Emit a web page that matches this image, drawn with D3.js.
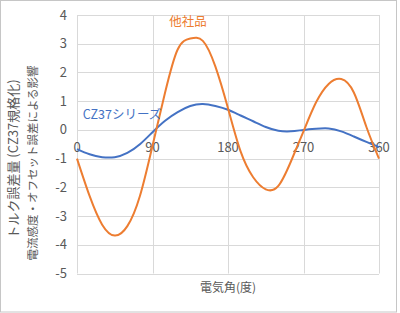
<!DOCTYPE html>
<html>
<head>
<meta charset="utf-8">
<script src="https://cdn.jsdelivr.net/npm/d3@7"></script>
<style>
  body { margin: 0; background: #fff; }
  svg { display: block; }
  text { font-family: "Noto Sans CJK JP", "Noto Sans", sans-serif; }
</style>
</head>
<body>
<svg width="400" height="313"></svg>
<script>
// electrical angle (deg), every 15
const angles = [0, 15, 30, 45, 60, 75, 90, 105, 120, 135, 150, 165, 180,
  195, 210, 225, 240, 255, 270, 285, 300, 315, 330, 345, 360];

// 他社品
const otherValues = [-1.0, -2.3, -3.3, -3.68, -3.35, -2.3, -0.55, 1.3, 2.8, 3.18, 3.1, 2.2, 0.75,
  -0.75, -1.65, -2.07, -1.95, -1.1, -0.05, 0.96, 1.6, 1.77, 1.3, 0.1, -1.0];

// CZ37シリーズ
const czValues = [-0.67, -0.85, -0.95, -0.95, -0.8, -0.5, -0.08, 0.32, 0.62, 0.83, 0.9, 0.83, 0.7,
  0.5, 0.3, 0.1, -0.03, -0.05, 0.0, 0.04, 0.05, -0.05, -0.23, -0.42, -0.6];

const xTicks = [0, 90, 180, 270, 360];
const yTicks = [-5, -4, -3, -2, -1, 0, 1, 2, 3, 4];

const svg = d3.select("svg");

// outer frame
svg.append("rect")
  .attr("x", 0.5).attr("y", 0.5)
  .attr("width", 396).attr("height", 311.5)
  .attr("fill", "none")
  .attr("stroke", "#c6c6c6");

const x = d3.scaleLinear().domain([0, 360]).range([77, 379]);
const y = d3.scaleLinear().domain([-5, 4]).range([273.5, 15]);

// grid
svg.append("g")
  .selectAll("line.h")
  .data(yTicks)
  .enter().append("line")
  .attr("x1", x(0)).attr("x2", x(360))
  .attr("y1", d => Math.round(y(d)) + 0.5)
  .attr("y2", d => Math.round(y(d)) + 0.5)
  .style("stroke", "#d9d9d9");

svg.append("g")
  .selectAll("line.v")
  .data(xTicks)
  .enter().append("line")
  .attr("x1", d => Math.round(x(d)) + 0.5)
  .attr("x2", d => Math.round(x(d)) + 0.5)
  .attr("y1", y(4)).attr("y2", y(-5))
  .style("stroke", "#d9d9d9");

// y tick labels
svg.append("g")
  .selectAll("text")
  .data(yTicks)
  .enter().append("text")
  .attr("x", 67)
  .attr("y", d => y(d))
  .attr("dy", "0.35em")
  .attr("text-anchor", "end")
  .style("font-size", "13px")
  .style("fill", "#595959")
  .text(d => d);

// x tick labels, sitting just under the zero line
svg.append("g")
  .selectAll("text")
  .data(xTicks)
  .enter().append("text")
  .attr("x", d => x(d))
  .attr("y", y(0) + 18)
  .attr("dy", "0.35em")
  .attr("text-anchor", "middle")
  .style("font-size", "13px")
  .style("fill", "#595959")
  .text(d => d);

// lines
const line = d3.line()
  .x((d, i) => x(angles[i]))
  .y(d => y(d))
  .curve(d3.curveNatural);

svg.append("path")
  .datum(czValues)
  .attr("d", line)
  .attr("fill", "none")
  .style("stroke", "#4472c4")
  .style("stroke-width", 2);

svg.append("path")
  .datum(otherValues)
  .attr("d", line)
  .attr("fill", "none")
  .style("stroke", "#ed7d31")
  .style("stroke-width", 2);

// series labels
svg.append("text")
  .attr("x", 188).attr("y", 22)
  .attr("dy", "0.35em")
  .attr("text-anchor", "middle")
  .style("font-size", "12.5px")
  .style("fill", "#ed7d31")
  .text("他社品");

svg.append("text")
  .attr("x", 122).attr("y", 115)
  .attr("dy", "0.35em")
  .attr("text-anchor", "middle")
  .style("font-size", "12.5px")
  .style("fill", "#4472c4")
  .text("CZ37シリーズ");

// axis titles
svg.append("text")
  .attr("x", 228).attr("y", 288)
  .attr("dy", "0.35em")
  .attr("text-anchor", "middle")
  .style("font-size", "12px")
  .style("fill", "#595959")
  .text("電気角(度)");

svg.append("text")
  .attr("transform", "translate(13,159) rotate(-90)")
  .attr("dy", "0.35em")
  .attr("text-anchor", "middle")
  .style("font-size", "13px")
  .style("fill", "#595959")
  .text("トルク誤差量 (CZ37規格化)");

svg.append("text")
  .attr("transform", "translate(33,163) rotate(-90)")
  .attr("dy", "0.35em")
  .attr("text-anchor", "middle")
  .style("font-size", "11.5px")
  .style("fill", "#595959")
  .text("電流感度・オフセット誤差による影響");
</script>
</body>
</html>
